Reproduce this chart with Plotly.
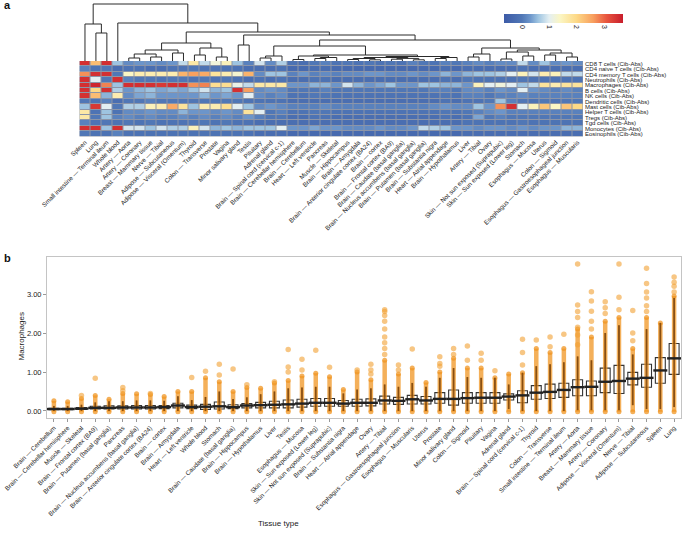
import plotly.graph_objects as go

W, H = 682, 536


def fx(px):
    return px / W


def fy(py):
    return 1 - py / H


FONT = "Liberation Sans, Arial, sans-serif"
TXT = "#222222"

# ---- panel a: heatmap of cell-type scores per tissue (columns in dendrogram order)
HEAT_TISSUES = [
    "Spleen", "Lung", "Small intestine — Terminal ileum", "Whole blood", "Artery — Aorta",
    "Artery — Coronary", "Breast — Mammary tissue", "Nerve — Tibial", "Adipose — Subcutaneous",
    "Adipose — Visceral (Omentum)", "Thyroid", "Colon — Transverse", "Prostate", "Vagina",
    "Minor salivary gland", "Testis", "Pituitary", "Adrenal gland", "Brain — Spinal cord (cervical c-1)",
    "Brain — Cerebellar hemisphere", "Brain — Cerebellum", "Heart — Left ventricle", "Pancreas",
    "Muscle — Skeletal", "Brain — Hippocampus", "Brain — Amygdala",
    "Brain — Anterior cingulate cortex (BA24)", "Brain — cortex", "Brain — Frontal cortex (BA9)",
    "Brain — Caudate (basal ganglia)", "Brain — Nucleus accumbens (basal ganglia)",
    "Brain — Putamen (basal ganglia)", "Brain — Substantia nigra", "Heart — Atrial appendage",
    "Brain — Hypothalamus", "Liver", "Artery — Tibial", "Ovary",
    "Skin — Not sun exposed (Suprapubic)", "Skin — Sun exposed (Lower leg)", "Stomach",
    "Esophagus — Mucosa", "Uterus", "Colon — Sigmoid", "Esophagus — Gastroesophageal junction",
    "Esophagus — Muscularis",
]

CELL_TYPES = [
    "CD8 T cells (Cib-Abs)", "CD4 naive T cells (Cib-Abs)", "CD4 memory T cells (Cib-Abs)",
    "Neutrophils (Cib-Abs)", "Macrophages (Cib-Abs)", "B cells (Cib-Abs)", "NK cells (Cib-Abs)",
    "Dendritic cells (Cib-Abs)", "Mast cells (Cib-Abs)", "Helper T cells (Cib-Abs)",
    "Tregs (Cib-Abs)", "Tgd cells (Cib-Abs)", "Monocytes (Cib-Abs)", "Eosinophils (Cib-Abs)",
]

CD8_T = [3.5, 2.3, 3.5, 0.6, 0.2, 0.3, 0.3, 0.2, 0.3, 0.8, 1.7, 0.8, 1.2, 1.5, 0.6, 0.1, 0.9, 0.2, 0.7, -0.1,
         -0.2, 0.0, 0.1, -0.1, 0.0, -0.1, 0.0, -0.1, 0.0, -0.1, 0.1, 0.0, -0.1, 0.1, 0.0, 0.1, 0.2, 0.1, 0.2, 0.2,
         0.8, 0.2, 0.6, 0.2, 0.3, 0.2]
CD4_NAIVE = [0.1, -0.1, 0.0, -0.2, -0.1, -0.1, -0.2, -0.2, -0.1, -0.1, 0.0, -0.1, -0.1, -0.1, -0.1, -0.2, -0.2,
             -0.2, -0.1, -0.3, -0.3, -0.2, -0.2, -0.3, -0.3, -0.3, -0.3, -0.3, -0.3, -0.3, -0.3, -0.3, -0.3, -0.2,
             -0.3, -0.2, -0.2, -0.2, -0.2, -0.2, -0.1, -0.2, -0.2, -0.2, -0.2, -0.2]
CD4_MEMORY = [2.7, 3.5, 3.5, 0.0, 1.4, 1.6, 1.6, 1.6, 1.6, 2.4, 2.6, 2.5, 1.8, 1.6, 1.3, 2.4, 0.2, 0.6, 0.6, 0.1,
              0.3, 0.1, 0.2, 0.1, 0.2, 0.2, 0.3, 0.3, 0.2, 0.2, 0.3, 0.2, 0.3, 0.5, 0.3, 0.5, 0.6, 0.6, 0.7, 1.0,
              1.5, 0.9, 1.6, 1.5, 0.8, 0.8]
NEUTROPHILS = [3.5, 1.0, 0.0, 3.5, 0.1, 0.0, 0.0, -0.1, 0.0, 0.0, -0.1, 0.0, -0.1, 0.0, -0.1, -0.2, -0.1, -0.2,
               -0.1, -0.2, -0.2, -0.1, -0.1, -0.2, -0.2, -0.2, -0.2, -0.2, -0.2, -0.2, -0.2, -0.2, -0.2, -0.1,
               -0.2, 0.0, -0.1, -0.1, -0.1, -0.1, 0.0, -0.1, -0.1, -0.1, -0.1, -0.1]
MACROPHAGES = [3.5, 3.6, 2.8, 0.6, 3.5, 3.5, 3.5, 3.4, 3.5, 3.5, 2.7, 2.8, 1.9, 1.9, 1.1, 0.8, 1.7, 1.7, 1.7, 0.3,
               0.3, 0.5, 0.5, 0.3, 0.9, 0.5, 0.3, 0.4, 0.6, 0.3, 0.3, 0.6, 0.6, 0.5, 0.5, 0.3, 1.5, 1.0, 1.2, 1.0,
               0.6, 0.8, 1.8, 1.6, 1.8, 1.8]
B_CELLS = [3.5, 2.0, 3.5, 0.7, 0.3, 0.5, 0.6, 0.4, 0.5, 0.4, 0.6, 0.9, 0.5, 0.6, 3.5, 2.6, 0.2, 0.3, 0.2, 0.0,
           0.0, 0.0, 0.1, 0.0, 0.0, 0.0, 0.0, 0.0, 0.0, 0.0, 0.0, 0.0, 0.1, 0.1, 0.0, 0.2, 0.2, 0.1, 0.3, 0.2, 1.0,
           0.3, 0.2, 0.1, 0.2, 0.1]
NK_CELLS = [3.5, 2.3, 0.5, 1.6, 0.2, 0.4, 0.5, 0.3, 0.3, 0.3, 0.3, 0.5, 0.3, 0.4, 0.3, 1.0, 0.2, 0.1, 0.2, -0.1,
            -0.1, 0.0, 0.0, -0.1, -0.1, -0.1, -0.1, -0.1, -0.1, -0.1, -0.1, -0.1, -0.1, 0.0, -0.1, 0.1, 0.1, 0.0,
            0.1, 0.1, 0.2, 0.1, 0.1, 0.1, 0.1, 0.1]
DENDRITIC = [0.0, -0.1, 0.1, -0.2, 0.0, 0.0, 0.1, 0.0, 0.0, 0.0, 0.0, 0.0, 0.0, 0.0, 0.0, -0.1, -0.1, -0.1, -0.1,
             -0.2, -0.2, -0.2, -0.2, -0.2, -0.2, -0.2, -0.2, -0.2, -0.2, -0.2, -0.2, -0.2, -0.2, -0.1, -0.2, -0.1,
             -0.1, 0.0, 0.6, 0.1, 0.0, -0.1, 0.0, -0.1, 0.0, 0.0]
MAST = [0.6, 3.4, 1.0, 0.0, 0.7, 0.7, 1.5, 1.6, 2.5, 1.8, 0.6, 1.6, 1.6, 1.9, 1.0, 0.6, 0.2, 0.3, 0.2, 0.1, 0.1,
        0.1, 0.2, 0.1, 0.1, 0.1, 0.1, 0.1, 0.1, 0.1, 0.1, 0.1, 0.2, 0.3, 0.2, 0.2, 0.6, 0.3, 2.7, 3.5, 1.0, 1.5,
        2.2, 1.4, 2.2, 2.0]
HELPER_T = [1.7, -0.1, 0.6, -0.1, 0.2, 0.2, 0.3, 0.2, 0.2, 0.5, 0.3, 0.3, 0.2, 0.3, 0.2, 1.8, 1.0, 0.0, 0.1, -0.1,
            -0.1, 0.0, 0.0, -0.1, -0.1, -0.1, -0.1, -0.1, -0.1, -0.1, -0.1, -0.1, -0.1, 0.0, -0.1, 0.0, 0.1, 0.2,
            0.3, 0.1, 0.1, 0.1, 0.1, 0.1, 0.1, 0.1]
TREGS = [1.7, 0.0, 0.6, 0.1, 0.2, 0.1, 0.2, 0.1, 0.1, 0.2, 0.1, 0.2, 0.1, 0.2, 0.1, 0.3, 0.1, 0.0, 0.0, -0.2, -0.2,
         -0.1, -0.1, -0.2, -0.2, -0.2, -0.2, -0.2, -0.2, -0.2, -0.2, -0.2, -0.2, -0.1, -0.2, -0.1, 0.4, 0.0, 0.1,
         0.0, 0.0, 0.0, 0.0, 0.0, 0.0, 0.0]
TGD = [0.1, -0.1, 0.0, -0.1, 0.0, -0.1, 0.0, -0.1, -0.1, -0.1, 0.0, 0.0, -0.1, 0.0, -0.1, -0.1, -0.2, -0.2, -0.2,
       -0.2, -0.2, -0.2, -0.2, -0.2, -0.2, -0.2, -0.2, -0.2, -0.2, -0.2, -0.2, -0.2, -0.2, -0.2, -0.2, -0.1, -0.1,
       -0.1, -0.1, -0.1, 0.0, -0.1, -0.1, -0.1, -0.1, -0.1]
MONOCYTES = [3.5, 3.5, 0.6, 3.5, 0.9, 0.9, 0.6, 0.9, 0.7, 0.7, 1.5, 0.9, 0.5, 0.6, 0.5, 0.6, 0.6, 0.6, 1.0, 0.3,
             0.3, 0.4, 0.3, 0.3, 0.2, 0.2, 0.2, 0.3, 0.2, 0.2, 0.3, 0.8, 0.7, 0.6, 0.3, 0.3, 0.2, 0.3, 0.3, 0.2,
             0.3, 0.2, 0.3, 0.3, 0.5, 0.5]
EOSINOPHILS = [0.0, -0.1, -0.1, 0.1, -0.1, -0.1, -0.1, -0.1, -0.1, -0.1, -0.1, -0.1, -0.1, -0.1, -0.1, -0.1, -0.2,
               -0.2, -0.2, -0.3, -0.3, -0.3, -0.3, -0.3, -0.3, -0.3, -0.3, -0.3, -0.3, -0.3, -0.3, -0.3, -0.3, -0.3,
               -0.3, -0.2, -0.2, -0.2, -0.2, -0.2, -0.2, -0.2, -0.2, -0.2, -0.2, -0.2]

# column dendrogram: ids < 46 are leaves, id 46+k is merge k
DEND_LEFT = [1, 0, 4, 6, 48, 8, 50, 10, 12, 53, 52, 14, 16, 58, 19, 21, 61, 60, 24, 26, 64, 28, 30, 67, 66, 32,
             71, 70, 63, 59, 35, 76, 38, 40, 78, 42, 44, 81, 80, 77, 75, 57, 56, 3, 47]
DEND_RIGHT = [2, 46, 5, 7, 49, 9, 51, 11, 13, 54, 55, 15, 17, 18, 20, 22, 23, 62, 25, 27, 65, 29, 31, 68, 69, 33,
              34, 72, 73, 74, 36, 37, 39, 41, 79, 43, 45, 82, 83, 84, 85, 86, 87, 88, 89]
DEND_HEIGHT = [28, 37, 3, 4, 7, 8, 11, 6, 4, 13, 18, 16, 3, 5, 1.5, 2.5, 3.5, 5, 1.5, 1.2, 2.5, 1.8, 1.2, 2.6, 3.5,
               2.5, 3.5, 4.5, 6, 15, 4, 7, 2, 5, 9, 6, 4, 8, 11, 13, 21, 26, 29, 38, 57]

COLOR_STOPS_V = [-0.65, 0.0, 0.3, 0.6, 1.0, 1.4, 2.0, 2.6, 3.1, 3.7]
COLOR_STOPS_C = ["#3D5BA7", "#5077B6", "#6C95CA", "#9EC4E1", "#E4EFF2", "#FBF6C4", "#FDD987", "#F8A05F",
                 "#E8553E", "#C81D2C"]

# ---- panel b: macrophage score per tissue (box stats + visible points)
BOX_TISSUES = [
    "Brain — Cerebellum", "Brain — Cerebellar hemisphere", "Muscle — Skeletal", "Brain — Frontal cortex (BA9)",
    "Brain — Putamen (basal ganglia)", "Pancreas", "Brain — Nucleus accumbens (basal ganglia)",
    "Brain — Anterior cingulate cortex (BA24)", "Brain — cortex", "Brain — Amygdala", "Heart — Left ventricle",
    "Whole blood", "Stomach", "Brain — Caudate (basal ganglia)", "Brain — Hippocampus", "Brain — Hypothalamus",
    "Liver", "Testis", "Esophagus — Mucosa", "Skin — Sun exposed (Lower leg)",
    "Skin — Not sun exposed (Suprapubic)", "Brain — Substantia nigra", "Heart — Atrial appendage", "Ovary",
    "Artery — Tibial", "Esophagus — Gastroesophageal junction", "Esophagus — Muscularis", "Uterus", "Prostate",
    "Minor salivary gland", "Colon — Sigmoid", "Pituitary", "Vagina", "Adrenal gland",
    "Brain — Spinal cord (cervical c-1)", "Thyroid", "Colon — Transverse", "Small intestine — Terminal ileum",
    "Artery — Aorta", "Breast — Mammary tissue", "Artery — Coronary", "Adipose — Visceral (Omentum)",
    "Nerve — Tibial", "Adipose — Subcutaneous", "Spleen", "Lung",
]
Q1 = [0.03, 0.03, 0.04, 0.05, 0.05, 0.05, 0.05, 0.05, 0.06, 0.08, 0.06, 0.04, 0.05, 0.06, 0.08, 0.08, 0.08, 0.08,
      0.10, 0.12, 0.12, 0.12, 0.12, 0.13, 0.18, 0.17, 0.18, 0.18, 0.20, 0.15, 0.20, 0.20, 0.20, 0.28, 0.21, 0.30,
      0.32, 0.35, 0.39, 0.39, 0.47, 0.45, 0.67, 0.61, 0.71, 0.94]
MEDIAN = [0.05, 0.05, 0.06, 0.08, 0.08, 0.09, 0.09, 0.09, 0.10, 0.14, 0.10, 0.11, 0.12, 0.10, 0.14, 0.15, 0.16,
          0.17, 0.19, 0.21, 0.21, 0.19, 0.21, 0.21, 0.27, 0.26, 0.30, 0.27, 0.31, 0.31, 0.33, 0.34, 0.34, 0.37,
          0.40, 0.47, 0.49, 0.54, 0.61, 0.62, 0.75, 0.77, 0.83, 0.85, 1.04, 1.35]
Q3 = [0.07, 0.07, 0.09, 0.12, 0.13, 0.13, 0.14, 0.14, 0.14, 0.20, 0.15, 0.17, 0.23, 0.16, 0.19, 0.22, 0.25, 0.28,
      0.30, 0.32, 0.32, 0.27, 0.30, 0.31, 0.38, 0.35, 0.40, 0.37, 0.47, 0.54, 0.47, 0.47, 0.47, 0.44, 0.52, 0.65,
      0.69, 0.71, 0.80, 0.77, 1.10, 1.17, 0.99, 1.20, 1.37, 1.73]
LOWER = [0.0, 0.0, 0.0, 0.0, 0.0, 0.0, 0.0, 0.0, 0.0, 0.0, 0.0, 0.0, 0.0, 0.0, 0.0, 0.0, 0.0, 0.0, 0.0, 0.0, 0.0,
         0.0, 0.0, 0.0, 0.0, 0.0, 0.0, 0.0, 0.0, 0.0, 0.0, 0.0, 0.0, 0.05, 0.0, 0.0, 0.0, 0.0, 0.02, 0.02, 0.02,
         0.02, 0.15, 0.05, 0.05, 0.10]
UPPER = [0.13, 0.13, 0.16, 0.22, 0.25, 0.25, 0.27, 0.27, 0.26, 0.38, 0.28, 0.36, 0.50, 0.31, 0.35, 0.43, 0.50,
         0.58, 0.60, 0.62, 0.62, 0.45, 0.55, 0.58, 0.68, 0.62, 0.72, 0.62, 0.85, 1.10, 0.87, 0.85, 0.85, 0.68,
         0.98, 1.15, 1.20, 1.25, 1.40, 1.30, 2.00, 2.20, 1.45, 2.10, 2.26, 2.90]
DENSE_TOP = [0.26, 0.24, 0.32, 0.40, 0.30, 0.45, 0.44, 0.42, 0.37, 0.50, 0.50, 0.85, 0.75, 0.50, 0.60, 0.58, 0.72,
             0.78, 0.90, 0.97, 0.88, 0.55, 1.00, 0.80, 1.30, 0.95, 1.10, 0.73, 1.00, 1.35, 1.10, 1.10, 0.85, 0.95,
             0.98, 1.60, 1.50, 1.60, 2.10, 1.90, 2.30, 2.40, 1.60, 2.40, 2.26, 2.95]
OUTLIERS = [
    [], [], [0.40], [0.84], [], [0.52, 0.60], [], [0.45], [], [], [0.86], [1.02], [0.92, 1.20], [1.08], [0.67],
    [], [0.75], [1.00, 1.13, 1.58], [1.05, 1.33], [1.56], [1.12], [], [1.05], [0.95, 1.05, 1.20],
    [1.45, 1.60, 1.75, 1.90, 2.10, 2.30, 2.45, 2.55, 2.60], [1.05, 1.18], [1.59], [], [1.15, 1.22, 1.39],
    [1.45, 1.60], [1.30, 1.67], [1.30, 1.48], [1.03], [], [1.18, 1.50, 1.84], [1.82], [1.65, 1.90], [1.97],
    [1.70, 1.95, 2.15, 2.40, 2.55, 2.72, 3.77], [2.10, 2.30, 2.56, 2.82, 3.06], [2.50, 2.65, 2.80],
    [2.60, 2.92, 3.77], [1.80, 2.00, 2.58], [2.55, 2.70, 2.90, 3.05, 3.27, 3.66], [], [3.05, 3.20, 3.30, 3.44],
]

# ---------------------------------------------------------------------------
fig = go.Figure()

# dendrogram
n_leaf = len(HEAT_TISSUES)
centers, heights = [], []
dx, dy = [], []
for a, b, h in zip(DEND_LEFT, DEND_RIGHT, DEND_HEIGHT):
    xa = a if a < n_leaf else centers[a - n_leaf]
    xb = b if b < n_leaf else centers[b - n_leaf]
    ha = 0 if a < n_leaf else heights[a - n_leaf]
    hb = 0 if b < n_leaf else heights[b - n_leaf]
    dx += [xa, xa, xb, xb, None]
    dy += [ha, h, h, hb, None]
    centers.append((xa + xb) / 2)
    heights.append(h)

fig.add_trace(go.Scatter(x=dx, y=dy, mode="lines", line=dict(color="#2b2b2b", width=1),
                         xaxis="x", yaxis="y", hoverinfo="skip", showlegend=False))

zmin, zmax = COLOR_STOPS_V[0], COLOR_STOPS_V[-1]
colorscale = [[(v - zmin) / (zmax - zmin), c] for v, c in zip(COLOR_STOPS_V, COLOR_STOPS_C)]
Z = [CD8_T, CD4_NAIVE, CD4_MEMORY, NEUTROPHILS, MACROPHAGES, B_CELLS, NK_CELLS, DENDRITIC, MAST, HELPER_T,
     TREGS, TGD, MONOCYTES, EOSINOPHILS]

fig.add_trace(go.Heatmap(
    z=Z, x=HEAT_TISSUES, y=CELL_TYPES, xaxis="x2", yaxis="y2",
    colorscale=colorscale, zmin=zmin, zmax=zmax, xgap=1, ygap=1,
    colorbar=dict(orientation="h", x=fx(504), xanchor="left", y=fy(13.5), yanchor="top",
                  len=119, lenmode="pixels", thickness=8.5, thicknessmode="pixels",
                  tickvals=[0, 1, 2, 3], ticks="", tickangle=90, outlinewidth=0, xpad=0, ypad=0,
                  tickfont=dict(size=7, color=TXT, family=FONT)),
))

# panel b: dense point columns, their overlapping core, sparse points, boxes, medians
dense_x, dense_y, core_x, core_y = [], [], [], []
for name, lo, up, top in zip(BOX_TISSUES, LOWER, UPPER, DENSE_TOP):
    dense_x += [name, name, None]
    dense_y += [min(lo, 0.0) - 0.02, top, None]
    core_x += [name, name, None]
    core_y += [lo, min(up, top), None]
fig.add_trace(go.Scatter(x=dense_x, y=dense_y, mode="lines+markers", xaxis="x3", yaxis="y3",
                         line=dict(color="rgba(240,150,35,0.75)", width=4.5),
                         marker=dict(size=5, color="rgba(240,150,35,0.75)"),
                         hoverinfo="skip", showlegend=False))
fig.add_trace(go.Scatter(x=core_x, y=core_y, mode="lines", xaxis="x3", yaxis="y3",
                         line=dict(color="rgba(120,65,10,0.8)", width=1.8),
                         hoverinfo="skip", showlegend=False))

out_x, out_y = [], []
for name, pts in zip(BOX_TISSUES, OUTLIERS):
    out_x += [name] * len(pts)
    out_y += pts
fig.add_trace(go.Scatter(x=out_x, y=out_y, mode="markers", xaxis="x3", yaxis="y3",
                         marker=dict(size=5.5, color="rgba(242,160,50,0.6)"),
                         hoverinfo="skip", showlegend=False))

fig.add_trace(go.Box(x=BOX_TISSUES, q1=Q1, median=MEDIAN, q3=Q3, lowerfence=LOWER, upperfence=UPPER,
                     xaxis="x3", yaxis="y3", fillcolor="white", line=dict(color="#333333", width=1.1),
                     whiskerwidth=0, width=0.72, boxpoints=False, showlegend=False))

fig.add_trace(go.Scatter(x=BOX_TISSUES, y=MEDIAN, mode="markers", xaxis="x3", yaxis="y3",
                         marker=dict(symbol="line-ew", size=10, line=dict(color="#222222", width=2.4)),
                         hoverinfo="skip", showlegend=False))

hx = [fx(79.5), fx(583)]
tick_font = dict(size=6.3, color=TXT, family=FONT)
fig.update_layout(
    width=W, height=H, margin=dict(l=0, r=0, t=0, b=0),
    paper_bgcolor="white", plot_bgcolor="white",
    font=dict(family=FONT, color=TXT),
    showlegend=False,
    xaxis=dict(domain=hx, range=[-0.5, n_leaf - 0.5], visible=False, anchor="y"),
    yaxis=dict(domain=[fy(61), fy(3)], range=[0, 58], visible=False, anchor="x"),
    xaxis2=dict(domain=hx, anchor="y2", tickangle=-45, tickfont=tick_font, ticks="", showgrid=False,
                tickmode="array", tickvals=HEAT_TISSUES, ticktext=HEAT_TISSUES,
                zeroline=False, automargin=False),
    yaxis2=dict(domain=[fy(136.6), fy(61)], anchor="x2", side="right", autorange="reversed",
                tickmode="array", tickvals=CELL_TYPES, ticktext=CELL_TYPES,
                tickfont=dict(size=6, color=TXT, family=FONT), ticks="", showgrid=False,
                zeroline=False, automargin=False, ticklabelstandoff=1),
    xaxis3=dict(domain=[fx(47), fx(681)], anchor="y3", range=[-0.5, len(BOX_TISSUES) - 0.5],
                tickmode="array", tickvals=BOX_TISSUES, ticktext=BOX_TISSUES,
                tickangle=-45, tickfont=tick_font, ticks="outside", ticklen=3, tickcolor="#999999",
                showline=True, mirror=True, linecolor="#C4C4C4", linewidth=1, showgrid=False,
                zeroline=False, automargin=False),
    yaxis3=dict(domain=[fy(418), fy(257)], anchor="x3", range=[-0.18, 3.95], tickvals=[0, 1, 2, 3],
                ticktext=["0.00", "1.00", "2.00", "3.00"], tickfont=dict(size=7.5, color=TXT, family=FONT),
                ticks="outside", ticklen=3, tickcolor="#999999", showline=True, mirror=True,
                linecolor="#C4C4C4", linewidth=1, showgrid=False, zeroline=False, automargin=False),
    shapes=[dict(type="rect", xref="x2 domain", yref="y2 domain", x0=0, x1=1, y0=0, y1=1,
                 fillcolor="#8C95A8", line=dict(width=0), layer="below")],
    annotations=[
        dict(text="<b>a</b>", x=fx(2), y=fy(5), xref="paper", yref="paper", xanchor="left", yanchor="middle",
             showarrow=False, font=dict(size=11, color="#111111", family=FONT)),
        dict(text="<b>b</b>", x=fx(2), y=fy(258), xref="paper", yref="paper", xanchor="left",
             yanchor="middle", showarrow=False, font=dict(size=11, color="#111111", family=FONT)),
        dict(text="Macrophages", x=fx(14), y=fy(337), xref="paper", yref="paper", textangle=-90,
             showarrow=False, font=dict(size=8, color=TXT, family=FONT)),
        dict(text="Tissue type", x=fx(278), y=fy(530), xref="paper", yref="paper",
             showarrow=False, font=dict(size=8, color=TXT, family=FONT)),
    ],
)

# the page's default body margin would push the 682x536 figure out of the window
fig.write_html("out.html", config={"displayModeBar": False},
               post_script="document.body.style.margin='0';")
